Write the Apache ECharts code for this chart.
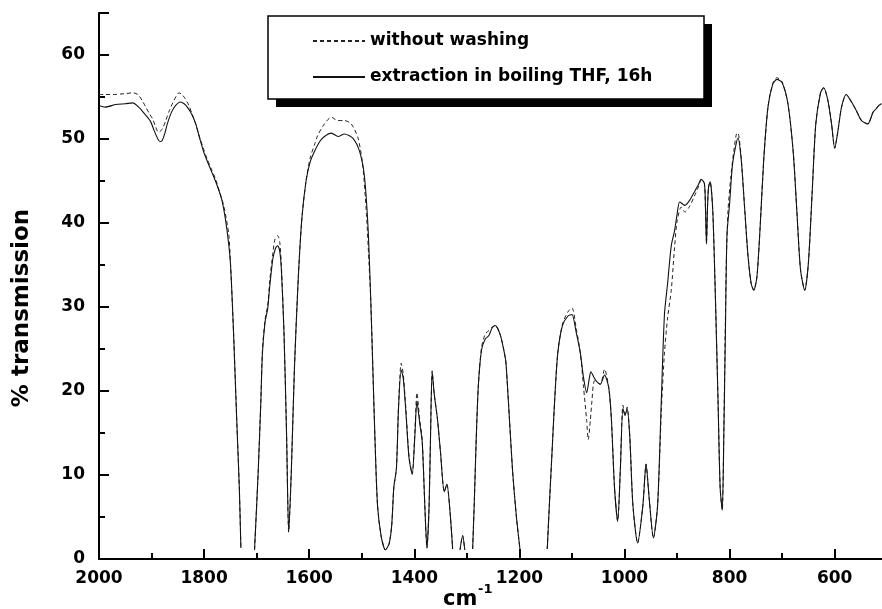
<!DOCTYPE html>
<html>
<head>
<meta charset="utf-8">
<script src="https://cdn.jsdelivr.net/npm/echarts@6/dist/echarts.min.js"></script>
<style>
html,body{margin:0;padding:0;background:#fff;}
#chart{width:882px;height:609px;}
</style>
</head>
<body>
<div id="chart"></div>
<script>
// x tick labels (wavenumber, cm-1), minor x ticks, and y tick labels (% transmission)
var xTickLabels = [2000, 1800, 1600, 1400, 1200, 1000, 800, 600];
var xMinorTicks = [1900, 1700, 1500, 1300, 1100, 900, 700];
var yTickLabels = [0, 10, 20, 30, 40, 50, 60];

var legendNames = ['without washing', 'extraction in boiling THF, 16h'];

// Solid curve: extraction in boiling THF, 16h (null = curve off-scale / gap)
var solidWn = [2000,1988,1968,1950,1936,1923,1912,1902,1895,1888,1884,1880,1875,1870,1862,1854,1845,1838,1832,1824,1816,1808,1801,1793,1785,1776,1766,1757,1750,1744,1738,1733,1730,1717,
1704,1697,1692,1689,1684,1679,1675,1669,1664,1660,1656,1653,1648,1643,1639,1634,1628,1621,1614,1606,1598,1590,1580,1571,1558,1545,1533,1517,1504,1495,1488,1483,1479,1475,1470,1463,1455,1448,1443,1439,1434,1430,1425,1421,1416,1410,1404,1399,1395,1390,1385,1380,1376,1372,1369,1366,1362,1356,1350,1343,1338,1332,1327,1320,
1313,1308,1304,1297,
1289,1286,1282,1278,1272,1265,1258,1252,1246,1236,1227,1225,1219,1213,1206,1199,1173,
1147,1143,1138,1133,1127,1118,1108,1100,1092,1084,1078,1072,1067,1064,1058,1054,1046,1038,1030,1025,1019,1013,1008,1003,999,995,990,984,975,965,959,953,945,937,930,924,918,911,905,900,895,885,876,867,860,854,848,846,844,842,840,837,832,827,822,818,814,811,808,805,800,794,784,778,771,765,759,754,748,742,735,727,718,710,700,689,679,672,665,657,650,643,636,627,621,613,606,600,594,587,578,568,559,549,537,527,521,516,511];
var solidT = [54.0,53.8,54.1,54.2,54.3,53.7,52.9,52.1,51.0,50.0,49.7,49.8,50.6,51.8,53.2,54.0,54.4,54.2,53.8,53.0,51.8,50.0,48.5,47.2,46.0,44.6,42.7,39.4,35.3,27.0,16.7,8.5,1.3,null,
1.1,10.5,18.8,24.5,28.2,29.8,32.5,35.8,37.0,37.3,36.6,34.5,27.0,14.6,3.2,10.5,22.9,33.2,40.5,45.0,47.3,48.5,49.7,50.3,50.7,50.3,50.6,50.1,48.5,45.6,39.4,31.1,22.9,14.6,6.4,2.7,1.1,1.8,4.0,8.5,10.8,18.0,22.5,21.5,17.5,12.0,10.1,14.6,18.8,16.3,14.0,6.4,1.3,6.0,15.0,22.3,19.6,16.7,12.6,8.0,8.9,5.6,1.2,null,
1.1,2.8,1.1,null,
1.2,6.4,14.6,20.8,24.9,26.2,26.6,27.5,27.8,26.6,24.0,22.9,16.7,10.5,5.2,1.2,null,
1.2,6.4,12.6,18.8,24.5,27.8,28.9,29.1,27.0,24.5,21.6,19.8,21.5,22.3,21.6,21.2,20.8,21.9,20.4,16.7,8.5,4.5,10.5,17.9,17.1,17.9,14.6,6.4,1.9,6.4,11.3,7.2,2.5,6.4,18.8,29.1,32.8,37.3,39.0,41.0,42.5,42.1,42.7,43.7,44.5,45.2,44.7,42.0,37.5,42.0,44.3,44.9,41.4,31.1,18.8,8.5,5.8,14.6,27.0,38.6,42.3,47.2,50.1,47.6,41.4,36.1,32.8,32.0,33.6,39.4,47.6,53.8,56.5,57.1,56.7,54.2,48.5,41.4,34.4,32.0,35.3,43.5,51.8,55.5,56.1,54.6,51.8,48.9,50.9,53.8,55.3,54.4,53.4,52.2,51.8,53.2,53.6,54.0,54.2];

// Dashed curve: without washing
var dashedWn = [2000,1988,1974,1950,1936,1926,1918,1911,1904,1898,1892,1887,1882,1878,1873,1866,1859,1853,1848,1842,1836,1829,1823,1816,1810,1802,1794,1786,1778,1770,1762,1753,1750,1744,1738,1733,1730,1717,
1704,1697,1692,1689,1684,1679,1675,1669,1665,1660,1656,1653,1648,1643,1639,1634,1628,1621,1614,1606,1598,1590,1584,1571,1558,1546,1533,1520,1507,1498,1491,1486,1483,1479,1475,1470,1463,1455,1448,1443,1439,1434,1430,1425,1421,1416,1410,1404,1399,1395,1390,1385,1380,1376,1372,1369,1366,1362,1356,1350,1343,1338,1332,1327,1320,
1313,1308,1304,1297,
1289,1286,1282,1278,1272,1265,1258,1252,1246,1236,1227,1225,1219,1213,1206,1199,1173,
1147,1143,1138,1133,1127,1118,1108,1100,1092,1084,1078,1072,1069,1065,1062,1057,1046,1038,1030,1025,1019,1013,1008,1003,999,995,990,984,975,965,959,953,945,937,930,924,918,911,905,900,892,885,876,867,860,854,848,846,844,842,840,837,832,827,822,818,814,811,808,806,803,798,792,786,784,778,771,765,759,754,748,742,735,727,718,710,700,689,679,672,665,657,650,643,636,627,621,613,606,600,594,587,578,568,559,549,537,527,521,516,511];
var dashedT = [55.3,55.3,55.3,55.4,55.5,55.3,54.6,53.8,53.0,52.4,51.4,50.8,51.0,51.4,52.2,53.4,54.4,55.1,55.5,55.3,54.8,54.0,53.0,51.8,50.5,49.0,47.6,46.4,45.2,43.6,41.9,38.6,35.5,27.0,16.7,8.5,1.3,null,
1.1,10.5,18.8,24.8,28.5,30.2,33.2,36.5,38.1,38.5,37.7,35.0,27.0,14.6,3.2,10.5,22.9,33.2,40.5,45.0,47.8,49.3,50.4,51.8,52.6,52.2,52.2,51.8,50.1,46.8,41.0,35.0,31.1,22.9,14.6,6.4,2.7,1.1,1.8,4.0,8.5,10.8,18.3,23.3,22.0,17.8,12.2,10.1,15.0,19.8,16.8,14.2,6.4,1.3,6.0,15.0,22.4,19.6,16.7,12.6,8.0,8.9,5.6,1.2,null,
1.1,2.8,1.1,null,
1.2,6.4,14.6,20.8,25.2,26.8,27.2,27.6,27.8,26.6,24.0,22.9,16.7,10.5,5.2,1.2,null,
1.2,6.4,12.6,18.8,24.5,28.0,29.4,29.9,27.5,24.5,20.5,16.5,14.2,16.5,18.8,21.2,20.8,22.6,20.4,16.7,8.5,4.5,10.5,18.3,17.3,18.1,14.6,6.4,1.9,6.4,11.3,7.2,2.5,6.4,17.5,24.5,28.7,32.0,36.9,40.2,41.9,41.3,42.0,43.2,44.2,45.1,44.7,42.0,37.5,42.0,44.3,44.9,41.4,31.1,18.8,8.5,5.8,15.5,28.5,36.0,41.5,45.3,48.6,50.7,50.7,47.8,41.4,36.1,32.8,32.0,33.6,39.4,47.6,53.8,56.6,57.3,56.8,54.2,48.5,41.4,34.4,32.0,35.3,43.5,51.8,55.5,56.1,54.6,51.8,48.9,50.9,53.8,55.3,54.4,53.4,52.2,51.8,53.2,53.6,54.0,54.2];

function toPairs(wn, t) {
  return wn.map(function (w, i) { return [w, t[i] === null ? '-' : t[i]]; });
}

var FONT = 'DejaVu Sans';
var chart = echarts.init(document.getElementById('chart'), null, {renderer: 'canvas'});
chart.setOption({
  animation: false,
  backgroundColor: '#ffffff',
  grid: {left: 99, top: 13, bottom: 50, right: 0, containLabel: false},
  xAxis: [{
    type: 'value',
    inverse: true,
    min: 510,
    max: 2000,
    axisLine: {show: true, onZero: false, lineStyle: {color: '#000', width: 2}},
    axisTick: {show: true, inside: true, length: 10, customValues: xTickLabels, lineStyle: {color: '#000', width: 2}},
    splitLine: {show: false},
    axisLabel: {
      margin: 11, color: '#000', fontFamily: FONT, fontWeight: 'bold', fontSize: 17,
      customValues: xTickLabels,
      formatter: function (v) { return String(v); }
    }
  }, {
    type: 'value',
    inverse: true,
    min: 510,
    max: 2000,
    position: 'bottom',
    axisLine: {show: false},
    axisTick: {show: true, inside: true, length: 6, customValues: xMinorTicks, lineStyle: {color: '#000', width: 2}},
    axisLabel: {show: false},
    splitLine: {show: false}
  }],
  yAxis: {
    type: 'value',
    min: 0,
    max: 65,
    interval: 10,
    axisLine: {show: true, onZero: false, lineStyle: {color: '#000', width: 2}},
    axisTick: {show: true, inside: true, length: 10, lineStyle: {color: '#000', width: 2}},
    minorTick: {show: true, splitNumber: 2, length: 6, lineStyle: {color: '#000', width: 2}},
    splitLine: {show: false},
    axisLabel: {
      margin: 14, color: '#000', fontFamily: FONT, fontWeight: 'bold', fontSize: 17,
      formatter: function (v) { return yTickLabels.indexOf(v) >= 0 ? String(v) : ''; }
    }
  },
  legend: {
    show: true,
    orient: 'vertical',
    left: 312,
    top: 31,
    padding: 0,
    itemWidth: 52,
    itemHeight: 20,
    itemGap: 16,
    z: 10,
    selectedMode: false,
    data: legendNames,
    itemStyle: {color: 'rgba(0,0,0,0)', borderColor: 'rgba(0,0,0,0)', borderWidth: 0, opacity: 0},
    textStyle: {color: '#000', fontFamily: FONT, fontWeight: 'bold', fontSize: 17, lineHeight: 20}
  },
  graphic: [
    {type: 'rect', z: 5, silent: true, shape: {x: 276, y: 24, width: 436, height: 83}, style: {fill: '#000'}},
    {type: 'rect', z: 6, silent: true, shape: {x: 268, y: 16, width: 436, height: 83}, style: {fill: '#fff', stroke: '#000', lineWidth: 1.5}},
    {type: 'text', z: 6, silent: true, x: 22, y: 308, rotation: Math.PI / 2,
      style: {text: '% transmission', fill: '#000', font: 'bold 23px "DejaVu Sans"', align: 'center', verticalAlign: 'middle'}},
    {type: 'text', z: 6, silent: true, x: 443, y: 600,
      style: {text: 'cm', fill: '#000', font: 'bold 21px "DejaVu Sans"', align: 'left', verticalAlign: 'middle'}},
    {type: 'text', z: 6, silent: true, x: 478, y: 590,
      style: {text: '-1', fill: '#000', font: 'bold 13px "DejaVu Sans"', align: 'left', verticalAlign: 'middle'}}
  ],
  series: [
    {
      name: legendNames[0],
      type: 'line',
      xAxisIndex: 0,
      data: toPairs(dashedWn, dashedT),
      showSymbol: false,
      symbol: 'none',
      smooth: 0.25,
      connectNulls: false,
      lineStyle: {color: '#222', width: 1, type: [4, 3]},
      itemStyle: {color: '#222'},
      z: 2
    },
    {
      name: legendNames[1],
      type: 'line',
      xAxisIndex: 0,
      data: toPairs(solidWn, solidT),
      showSymbol: false,
      symbol: 'none',
      smooth: 0.25,
      connectNulls: false,
      lineStyle: {color: '#111', width: 1.1, type: 'solid'},
      itemStyle: {color: '#111'},
      z: 3
    }
  ]
});
</script>
</body>
</html>
